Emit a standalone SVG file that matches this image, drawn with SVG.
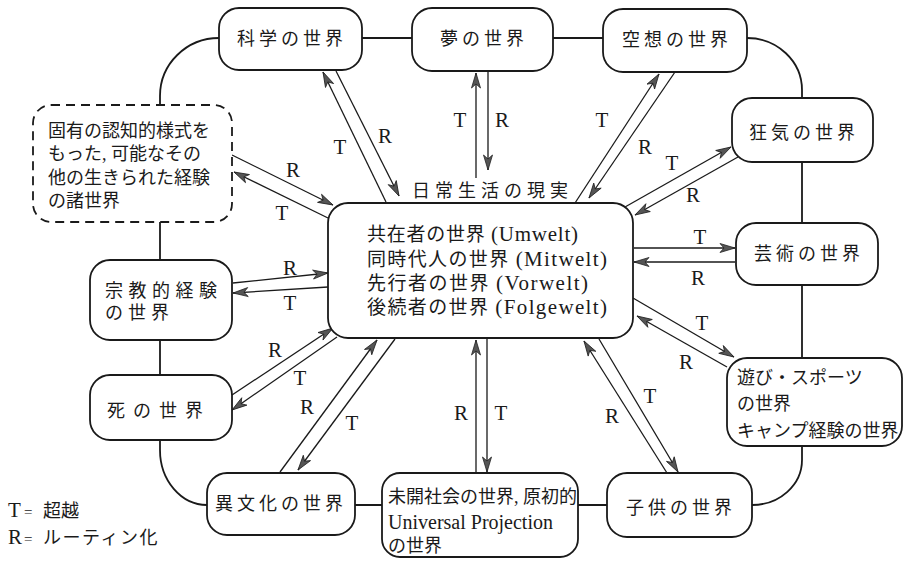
<svg xmlns="http://www.w3.org/2000/svg" width="905" height="562" viewBox="0 0 905 562">
<style>
.box{fill:#fff;stroke:#1a1a1a;stroke-width:1.8}
.dash{fill:#fff;stroke:#1a1a1a;stroke-width:1.8;stroke-dasharray:9 6}
.loop{fill:none;stroke:#1a1a1a;stroke-width:1.8}
.arr{stroke:#1a1a1a;stroke-width:1.3;marker-end:url(#ah)}
.jp{font-family:"Liberation Serif","Noto Sans CJK JP",serif;font-size:18px;fill:#1a1a1a}
.ls{letter-spacing:4px}
.lab{font-family:"Liberation Serif",serif;font-size:21px;fill:#1a1a1a;text-anchor:middle}
.ctr{font-family:"Liberation Serif","Noto Sans CJK JP",serif;font-size:19px;fill:#1a1a1a}
.lat{font-size:21px}
</style>
<defs>
<marker id="ah" markerUnits="userSpaceOnUse" markerWidth="18" markerHeight="12" refX="16" refY="6" orient="auto">
<path d="M1,1.5 L16,6 L1,10.5 L5,6 Z" fill="#555" stroke="#222" stroke-width="0.8"/>
</marker>
</defs>
<rect width="905" height="562" fill="#fff"/>
<path class="loop" d="M219,38 H747 A55,52 0 0 1 802,90 V460 A50,45 0 0 1 752,505 H207 A47,55 0 0 1 160,450 V96 A59,58 0 0 1 219,38 Z"/>
<g id="connectors">
<line class="arr" x1="386" y1="202" x2="323" y2="72"/>
<line class="arr" x1="336" y1="71" x2="399" y2="196"/>
<line class="arr" x1="476" y1="178" x2="476" y2="73"/>
<line class="arr" x1="488" y1="72" x2="488" y2="170"/>
<line class="arr" x1="575" y1="203" x2="659" y2="74"/>
<line class="arr" x1="675" y1="72" x2="589" y2="198"/>
<line class="arr" x1="625" y1="207" x2="731" y2="147"/>
<line class="arr" x1="738" y1="157" x2="635" y2="215"/>
<line class="arr" x1="634" y1="248" x2="735" y2="248"/>
<line class="arr" x1="735" y1="262" x2="634" y2="262"/>
<line class="arr" x1="633" y1="298" x2="734" y2="357"/>
<line class="arr" x1="727" y1="367" x2="637" y2="316"/>
<line class="arr" x1="667" y1="473" x2="584" y2="341"/>
<line class="arr" x1="599" y1="339" x2="678" y2="472"/>
<line class="arr" x1="476" y1="473" x2="476" y2="340"/>
<line class="arr" x1="487" y1="339" x2="487" y2="472"/>
<line class="arr" x1="280" y1="472" x2="377" y2="340"/>
<line class="arr" x1="395" y1="339" x2="298" y2="470"/>
<line class="arr" x1="232" y1="395" x2="333" y2="328"/>
<line class="arr" x1="337" y1="337" x2="232" y2="410"/>
<line class="arr" x1="233" y1="283" x2="328" y2="273"/>
<line class="arr" x1="328" y1="287" x2="233" y2="293"/>
<line class="arr" x1="232" y1="155" x2="333" y2="205"/>
<line class="arr" x1="328" y1="218" x2="234" y2="172"/>
<text class="lab" x="340" y="154">T</text>
<text class="lab" x="385" y="143">R</text>
<text class="lab" x="460" y="127">T</text>
<text class="lab" x="502" y="127">R</text>
<text class="lab" x="602" y="127">T</text>
<text class="lab" x="645" y="154">R</text>
<text class="lab" x="672" y="170">T</text>
<text class="lab" x="693" y="202">R</text>
<text class="lab" x="700" y="244">T</text>
<text class="lab" x="698" y="285">R</text>
<text class="lab" x="702" y="330">T</text>
<text class="lab" x="686" y="369">R</text>
<text class="lab" x="650" y="403">T</text>
<text class="lab" x="612" y="423">R</text>
<text class="lab" x="461" y="420">R</text>
<text class="lab" x="501" y="420">T</text>
<text class="lab" x="307" y="414">R</text>
<text class="lab" x="352" y="430">T</text>
<text class="lab" x="275" y="357">R</text>
<text class="lab" x="300" y="385">T</text>
<text class="lab" x="290" y="275">R</text>
<text class="lab" x="290" y="310">T</text>
<text class="lab" x="293" y="177">R</text>
<text class="lab" x="282" y="220">T</text>
</g>
<g id="n-science"><rect class="box" x="219" y="8" width="143" height="62" rx="20"/><text class="jp ls" x="292" y="45" text-anchor="middle">科学の世界</text></g>
<g id="n-dream"><rect class="box" x="412" y="8" width="141" height="63" rx="20"/><text class="jp ls" x="484" y="45" text-anchor="middle">夢の世界</text></g>
<g id="n-fantasy"><rect class="box" x="603" y="9" width="144" height="63" rx="20"/><text class="jp ls" x="677" y="46" text-anchor="middle">空想の世界</text></g>
<g id="n-madness"><rect class="box" x="732" y="98" width="141" height="64" rx="20"/><text class="jp ls" x="804" y="139" text-anchor="middle">狂気の世界</text></g>
<g id="n-art"><rect class="box" x="736" y="223" width="142" height="62" rx="20"/><text class="jp ls" x="809" y="260" text-anchor="middle">芸術の世界</text></g>
<g id="n-play"><rect class="box" x="727" y="358" width="175" height="88" rx="20"/>
<text class="jp" x="737" y="384">遊び・スポーツ</text><text class="jp" x="737" y="410">の世界</text><text class="jp" x="737" y="437">キャンプ経験の世界</text></g>
<g id="n-child"><rect class="box" x="607" y="473" width="145" height="64" rx="20"/><text class="jp ls" x="681" y="514" text-anchor="middle">子供の世界</text></g>
<g id="n-primitive"><rect class="box" x="382" y="473" width="196" height="84" rx="18"/>
<text class="jp" x="388" y="503">未開社会の世界, 原初的</text><text class="jp" x="388" y="529" style="font-size:20px">Universal Projection</text><text class="jp" x="388" y="552">の世界</text></g>
<g id="n-culture"><rect class="box" x="207" y="473" width="148" height="62" rx="20"/><text class="jp ls" x="281" y="510" text-anchor="middle">異文化の世界</text></g>
<g id="n-death"><rect class="box" x="90" y="375" width="142" height="65" rx="20"/><text class="jp" x="107" y="417" letter-spacing="8">死の世界</text></g>
<g id="n-religion"><rect class="box" x="90" y="260" width="142" height="80" rx="20"/>
<text class="jp" x="105" y="297" letter-spacing="5.5">宗教的経験</text><text class="jp" x="105" y="319" letter-spacing="5">の世界</text></g>
<g id="n-other"><rect class="dash" x="33" y="105" width="199" height="117" rx="18"/>
<text class="jp" x="48" y="137">固有の認知的様式を</text><text class="jp" x="48" y="160">もった, 可能なその</text><text class="jp" x="48" y="184">他の生きられた経験</text><text class="jp" x="48" y="207">の諸世界</text></g>
<g id="n-center"><rect class="box" x="328" y="203" width="305" height="135" rx="20"/>
<text class="ctr" x="367" y="241" textLength="211" lengthAdjust="spacing">共在者の世界 <tspan class="lat">(Umwelt)</tspan></text>
<text class="ctr" x="367" y="266" textLength="240" lengthAdjust="spacing">同時代人の世界 <tspan class="lat">(Mitwelt)</tspan></text>
<text class="ctr" x="367" y="290" textLength="221" lengthAdjust="spacing">先行者の世界 <tspan class="lat">(Vorwelt)</tspan></text>
<text class="ctr" x="367" y="314" textLength="240" lengthAdjust="spacing">後続者の世界 <tspan class="lat">(Folgewelt)</tspan></text>
</g>
<g id="n-everyday"><text class="jp" x="412" y="197" letter-spacing="5">日常生活の現実</text></g>
<g id="legend">
<text class="jp" x="8" y="517"><tspan style="font-size:21px">T</tspan><tspan x="24" style="font-size:15px">=</tspan><tspan x="43">超越</tspan></text>
<text class="jp" x="8" y="544"><tspan style="font-size:21px">R</tspan><tspan x="24" style="font-size:15px">=</tspan><tspan x="43" letter-spacing="1.5">ルーティン化</tspan></text>
</g>
</svg>
